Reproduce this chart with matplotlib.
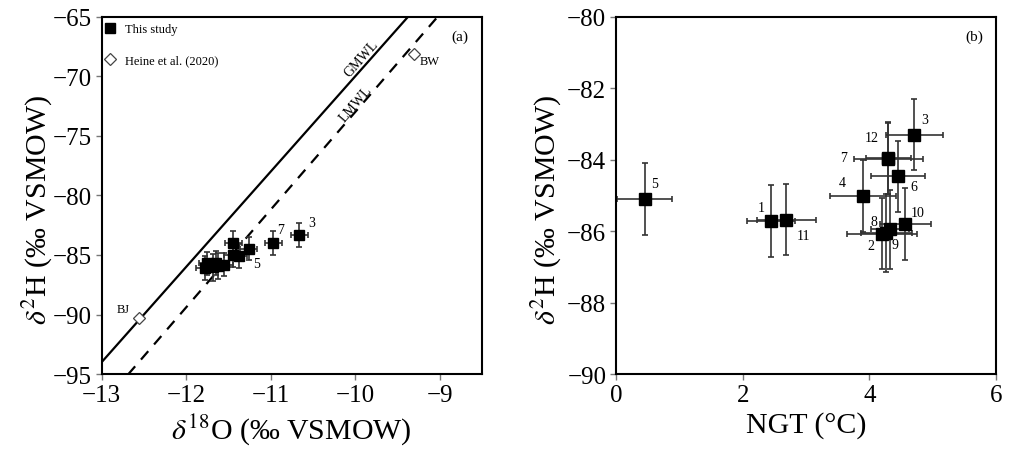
import matplotlib
matplotlib.use("Agg")
import matplotlib.pyplot as plt
import numpy as np

plt.rcParams["font.family"] = ["Liberation Serif", "DejaVu Serif"]
plt.rcParams["mathtext.fontset"] = "stix"

# Sample identifiers
sample_ids = ["1", "2", "3", "4", "5", "6", "7", "8", "9", "10", "11", "12"]

# Isotope data for this study (per mil VSMOW)
d18O = [-11.75, -11.78, -10.66, -11.45, -11.38, -11.26, -10.97, -11.62, -11.68, -11.55, -11.65, -11.44]
d2H = [-85.71, -86.07, -83.30, -85.01, -85.10, -84.46, -83.97, -85.95, -86.05, -85.80, -85.68, -83.95]
d18O_err = [0.10, 0.10, 0.10, 0.10, 0.10, 0.10, 0.10, 0.10, 0.10, 0.10, 0.10, 0.10]
d2H_err = [1.0, 1.0, 1.0, 1.0, 1.0, 1.0, 1.0, 1.1, 1.1, 1.0, 1.0, 1.0]

# Noble gas temperatures (deg C)
ngt = [2.45, 4.20, 4.71, 3.90, 0.45, 4.45, 4.30, 4.32, 4.27, 4.57, 2.69, 4.30]
ngt_err = [0.38, 0.55, 0.45, 0.52, 0.43, 0.43, 0.54, 0.30, 0.40, 0.41, 0.46, 0.35]

# Reference waters (Heine et al., 2020)
ref_names = ["BJ", "BW"]
ref_d18O = [-12.556, -9.30]
ref_d2H = [-90.32, -68.10]

# Meteoric water lines: slope, intercept
gmwl = (8.0, 10.0)
lmwl = (8.2, 9.0)

fig = plt.figure(figsize=(10.14, 4.56), dpi=100)
ax1 = fig.add_axes([0.1003, 0.1776, 0.3748, 0.783])
ax2 = fig.add_axes([0.6075, 0.1776, 0.3748, 0.783])

TICK_FS = 18
LABEL_FS = 21.5

# ---- Panel (a): dual isotope plot ----
xl = np.array([-13.0, -8.5])
ax1.plot(xl, gmwl[0] * xl + gmwl[1], color="black", lw=1.6, zorder=1)
ax1.plot(xl, lmwl[0] * xl + lmwl[1], color="black", lw=1.6, ls=(0, (5, 4)), zorder=1)

ax1.errorbar(d18O, d2H, xerr=d18O_err, yerr=d2H_err, fmt="none", ecolor="#333333",
             elinewidth=1.2, capsize=2.5, capthick=1.2, zorder=2)
ax1.plot(d18O, d2H, ls="none", marker="s", ms=7.5, color="black", label="This study", zorder=3)
ax1.plot(ref_d18O, ref_d2H, ls="none", marker="D", ms=6, mfc="white", mec="#444444",
         mew=0.9, label="Heine et al. (2020)", zorder=3)

for name, x, y, off in zip(ref_names, ref_d18O, ref_d2H, [(-16, 9), (15, -7)]):
    ax1.annotate(name, (x, y), xytext=off, textcoords="offset pixels",
                 ha="center", va="center", fontsize=9)

a_label_offsets = {"3": (12, 12), "7": (7, 13), "5": (18, -7)}
for sid, x, y in zip(sample_ids, d18O, d2H):
    if sid in a_label_offsets:
        ax1.annotate(sid, (x, y), xytext=a_label_offsets[sid], textcoords="offset pixels",
                     ha="center", va="center", fontsize=10)

ax1.text(-9.93, -68.5, "GMWL", rotation=48.5, ha="center", va="center", fontsize=10)
ax1.text(-9.99, -72.3, "LMWL", rotation=49.5, ha="center", va="center", fontsize=10)
ax1.text(0.965, 0.965, "(a)", transform=ax1.transAxes, ha="right", va="top", fontsize=11)

leg = ax1.legend(loc="upper left", frameon=False, fontsize=9, handletextpad=0.7,
                 labelspacing=1.5, borderaxespad=0.1, handlelength=1.0,
                 bbox_to_anchor=(-0.012, 1.0))

ax1.set_xlim(-13, -8.5)
ax1.set_ylim(-95, -65)
ax1.set_xticks([-13, -12, -11, -10, -9])
ax1.set_yticks([-95, -90, -85, -80, -75, -70, -65])
ax1.set_xlabel(r"$\delta^{18}$O (‰ VSMOW)", fontsize=LABEL_FS, labelpad=4)
ax1.set_ylabel(r"$\delta^{2}$H (‰ VSMOW)", fontsize=LABEL_FS)
ax1.yaxis.set_label_coords(-0.122, 0.462)

# ---- Panel (b): NGT vs deuterium ----
ax2.errorbar(ngt, d2H, xerr=ngt_err, yerr=d2H_err, fmt="none", ecolor="#333333",
             elinewidth=1.2, capsize=2.5, capthick=1.2, zorder=2)
ax2.plot(ngt, d2H, ls="none", marker="s", ms=8, color="black", zorder=3)

b_label_offsets = {"1": (-10, 13), "2": (-11, -12), "3": (10, 15), "4": (-21, 13),
                   "5": (10, 16), "6": (16, -10), "7": (-45, 1), "8": (-16, 8),
                   "9": (9, -12), "10": (12, 12), "11": (17, -16), "12": (-17, 21)}
for sid, x, y in zip(sample_ids, ngt, d2H):
    ox, oy = b_label_offsets[sid]
    ax2.annotate(sid, (x, y), xytext=(ox, oy), textcoords="offset pixels",
                 ha="center", va="center", fontsize=10)

ax2.text(0.965, 0.965, "(b)", transform=ax2.transAxes, ha="right", va="top", fontsize=11)
ax2.set_xlim(0, 6)
ax2.set_ylim(-90, -80)
ax2.set_xticks([0, 2, 4, 6])
ax2.set_yticks([-90, -88, -86, -84, -82, -80])
ax2.set_xlabel("NGT (°C)", fontsize=LABEL_FS, labelpad=4)
ax2.set_ylabel(r"$\delta^{2}$H (‰ VSMOW)", fontsize=LABEL_FS)
ax2.yaxis.set_label_coords(-0.137, 0.462)

for ax in (ax1, ax2):
    for sp in ax.spines.values():
        sp.set_linewidth(1.5)
        sp.set_color("black")
    ax.tick_params(direction="out", length=4, width=1.0, color="#777777",
                   labelsize=TICK_FS, pad=3)

fig.savefig("out.png", dpi=100)
